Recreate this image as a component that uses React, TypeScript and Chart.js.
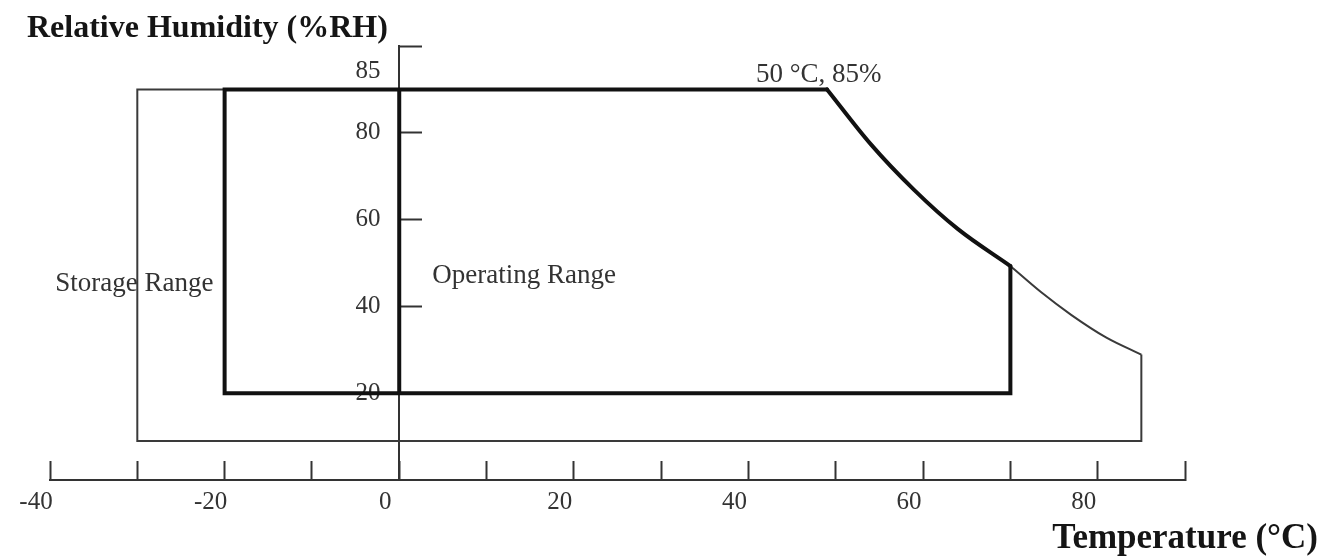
import React, { useEffect, useRef } from 'react';
import { Chart, registerables, LinearScale } from 'chart.js';

Chart.register(...registerables);

// ---------- data ----------
const operatingEdgeTemp = [49, -20, -20, 70, 70];
const operatingEdgeRH = [85, 85, 20, 20, 49.3];
const operatingCurveTemp = [49, 54, 59, 64, 70];
const operatingCurveRH = [85, 77.4, 66.8, 57.8, 49.3];
const operatingDividerTemp = [0, 0];
const operatingDividerRH = [85, 20];
const storageEdgeTemp = [85, 85, -30, -30, -20];
const storageEdgeRH = [28.9, 9, 9, 85, 85];
const storageCurveTemp = [70, 73.5, 77, 81, 85];
const storageCurveRH = [49.3, 43.3, 38, 32.8, 28.9];

const xTickValues = [-40, -30, -20, -10, 0, 10, 20, 30, 40, 50, 60, 70, 80, 90];
const xTickLabels = ['-40', '', '-20', '', '0', '', '20', '', '40', '', '60', '', '80', ''];
const yTickValues = [20, 40, 60, 80, 85, 100];
const yTickLabels = ['20', '40', '60', '80', '85', ''];

const yAxisTitle = 'Relative Humidity (%RH)';
const xAxisTitle = 'Temperature (\u00B0C)';
const storageLabel = 'Storage Range';
const operatingLabel = 'Operating Range';
const cornerLabel = '50 \u00B0C, 85%';

// ---------- styling ----------
const SERIF = '"Liberation Serif", "Times New Roman", serif';
const THICK = '#111111';
const THIN = '#3a3a3a';
const AXIS = '#333333';
const PAD = '\u00a0\u00a0\u00a0';

// The original drawing stretches the 80..85 band; map values piecewise.
const warp = (v: number) => (v <= 80 ? v : v <= 85 ? 80 + (v - 80) * 2 : 90 + (v - 85) * (10 / 15));
const unwarp = (w: number) => (w <= 80 ? w : w <= 90 ? 80 + (w - 80) / 2 : 85 + (w - 90) * 1.5);

class BrokenLinearScale extends LinearScale {
  static id = 'brokenLinear';
  static defaults = LinearScale.defaults;
  getPixelForValue(value: number) {
    return super.getPixelForValue(warp(value));
  }
  getValueForPixel(pixel: number) {
    return unwarp(super.getValueForPixel(pixel) as number);
  }
}
Chart.register(BrokenLinearScale as any);

const zip = (xs: number[], ys: number[]) => xs.map((x, i) => ({ x, y: ys[i] }));

const textPlugin = {
  id: 'rangeText',
  afterDatasetsDraw(chart: any) {
    const { ctx } = chart;
    const xs = chart.scales.x;
    const ys = chart.scales.y;
    ctx.save();
    ctx.textBaseline = 'alphabetic';

    ctx.fillStyle = '#151515';
    ctx.font = `bold 32px ${SERIF}`;
    ctx.textAlign = 'left';
    ctx.fillText(yAxisTitle, 27, 37);

    ctx.font = `bold 35px ${SERIF}`;
    ctx.textAlign = 'right';
    ctx.fillText(xAxisTitle, 1318, 548);

    ctx.fillStyle = '#333333';
    ctx.font = `27px ${SERIF}`;
    ctx.textAlign = 'center';
    ctx.fillText(storageLabel, xs.getPixelForValue(-30) - 3, ys.getPixelForValue(43.6));

    ctx.textAlign = 'left';
    ctx.fillText(operatingLabel, xs.getPixelForValue(0) + 33, ys.getPixelForValue(45.5));

    ctx.fillText(cornerLabel, xs.getPixelForValue(49) - 71, ys.getPixelForValue(85) - 7);
    ctx.restore();
  },
};

export default function App() {
  const ref = useRef<HTMLCanvasElement>(null);

  useEffect(() => {
    if (!ref.current) return;
    const lineBase = {
      showLine: true,
      pointRadius: 0,
      pointHoverRadius: 0,
      pointHitRadius: 0,
      fill: false,
      clip: false as any,
    };
    const chart = new Chart(ref.current, {
      type: 'scatter',
      data: {
        datasets: [
          {
            ...lineBase,
            label: 'Operating Range',
            data: zip(operatingEdgeTemp, operatingEdgeRH),
            borderColor: THICK,
            borderWidth: 4,
            borderJoinStyle: 'miter',
            borderCapStyle: 'round',
            tension: 0,
            order: 1,
          },
          {
            ...lineBase,
            label: 'Operating Range limit',
            data: zip(operatingCurveTemp, operatingCurveRH),
            borderColor: THICK,
            borderWidth: 4,
            borderCapStyle: 'round',
            cubicInterpolationMode: 'monotone',
            order: 1,
          },
          {
            ...lineBase,
            label: 'Operating divider',
            data: zip(operatingDividerTemp, operatingDividerRH),
            borderColor: THICK,
            borderWidth: 4,
            tension: 0,
            order: 1,
          },
          {
            ...lineBase,
            label: 'Storage Range',
            data: zip(storageEdgeTemp, storageEdgeRH),
            borderColor: THIN,
            borderWidth: 2,
            borderJoinStyle: 'miter',
            tension: 0,
            order: 2,
          },
          {
            ...lineBase,
            label: 'Storage Range limit',
            data: zip(storageCurveTemp, storageCurveRH),
            borderColor: THIN,
            borderWidth: 2,
            cubicInterpolationMode: 'monotone',
            order: 2,
          },
        ] as any,
      },
      options: {
        responsive: false,
        animation: false,
        devicePixelRatio: 1,
        events: [],
        layout: { padding: { left: 50, right: 138, top: 46, bottom: 77 } },
        plugins: {
          legend: { display: false },
          tooltip: { enabled: false },
          title: { display: false },
        },
        scales: {
          x: {
            type: 'linear',
            min: -40,
            max: 90,
            position: { y: 0 } as any,
            afterBuildTicks: (s: any) => {
              s.ticks = xTickValues.map((v) => ({ value: v }));
            },
            ticks: {
              autoSkip: false,
              maxRotation: 0,
              padding: 30,
              labelOffset: -14,
              color: '#333333',
              font: { family: SERIF, size: 25, lineHeight: 1 },
              callback: (_v: any, i: number) => xTickLabels[i],
            },
            grid: {
              display: true,
              drawOnChartArea: false,
              drawTicks: true,
              tickLength: -20,
              tickWidth: 2,
              tickColor: AXIS,
            },
            border: { display: true, width: 2, color: AXIS },
          },
          y: {
            type: 'brokenLinear' as any,
            min: 0,
            max: 100,
            position: { x: 0 } as any,
            afterBuildTicks: (s: any) => {
              s.ticks = yTickValues.map((v) => ({ value: v }));
            },
            ticks: {
              autoSkip: false,
              color: '#333333',
              font: { family: SERIF, size: 25, lineHeight: 1.44 },
              callback: (v: any, i: number) => {
                const l = yTickLabels[i];
                if (!l) return '';
                return v === 85 ? [l + PAD, ''] : l + PAD;
              },
            },
            grid: {
              display: true,
              drawOnChartArea: false,
              drawTicks: true,
              tickLength: -24,
              tickWidth: 2,
              tickColor: AXIS,
            },
            border: { display: true, width: 2, color: AXIS },
          },
        } as any,
      },
      plugins: [textPlugin],
    });
    return () => chart.destroy();
  }, []);

  return (
    <div style={{ position: 'fixed', left: 0, top: 0, width: 1323, height: 557, background: '#ffffff' }}>
      <canvas ref={ref} width={1323} height={557} style={{ display: 'block' }} />
    </div>
  );
}
